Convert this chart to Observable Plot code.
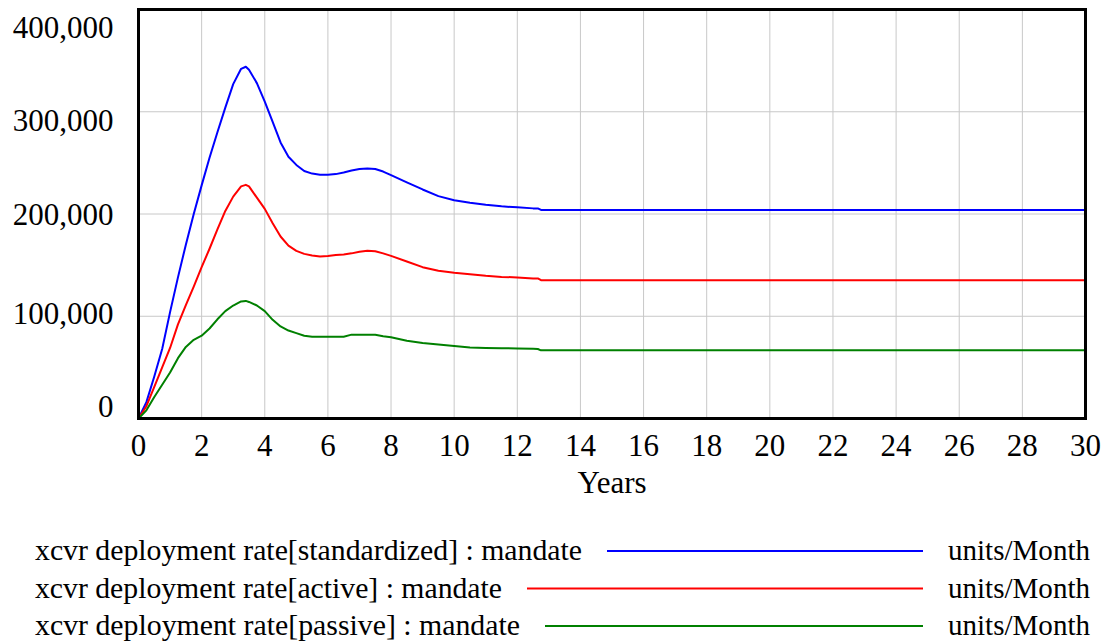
<!DOCTYPE html>
<html>
<head>
<meta charset="utf-8">
<script src="https://cdn.jsdelivr.net/npm/d3@7"></script>
<script src="https://cdn.jsdelivr.net/npm/@observablehq/plot@0.6"></script>
<style>
  html, body { margin: 0; padding: 0; background: #fff; }
  svg { display: block; }
</style>
</head>
<body>
<div id="chart"></div>
<div id="legend"></div>
<script>
// ---- data (years, thousands of units/Month) ----
const years = [0, 0.25, 0.5, 0.75, 1, 1.25, 1.5, 1.75, 2, 2.25, 2.5, 2.75, 3, 3.25, 3.4, 3.5, 3.75, 4,
  4.25, 4.5, 4.75, 5, 5.25, 5.5, 5.75, 6, 6.25, 6.5, 6.75, 7, 7.25, 7.5, 7.75, 8,
  8.5, 9, 9.5, 10, 10.5, 11, 11.5, 12, 12.5, 12.65, 12.75, 30];

const standardized = [0, 16, 41, 68, 104, 138, 170, 200, 228, 255, 280, 304, 327, 342, 344, 341, 328, 310,
  290, 270, 256, 248, 242, 239.5, 238.5, 238.5, 239, 240.5, 242.5, 244, 244.5, 244, 241.5, 238,
  231, 224, 217.5, 213.5, 211, 209, 207.5, 206.5, 205.5, 205.5, 204, 204];

const active = [0, 12, 31, 50, 69, 92, 111, 129, 148, 166, 185, 203, 217, 227, 228.5, 227, 216, 205,
  191, 178, 169, 164, 161, 159.5, 158.5, 159, 160, 160.5, 161.5, 163, 164, 163.5, 161.5, 159,
  153.5, 148, 144.5, 142.5, 141, 139.5, 138.5, 138, 137, 137, 135.3, 135.3];

const passive = [0, 8, 21, 33, 45, 59, 70, 77, 81, 88, 97, 105, 110.5, 114.5, 115, 114, 110.5, 105,
  96.5, 90, 86, 83.5, 81, 80, 80, 80, 80, 80, 82, 82, 82, 82, 80.5, 79.5,
  76, 73.8, 72.3, 70.8, 69.5, 69, 68.7, 68.5, 68.2, 68, 66.7, 66.7];

const seriesNames = ["xcvr deployment rate[standardized] : mandate",
                     "xcvr deployment rate[active] : mandate",
                     "xcvr deployment rate[passive] : mandate"];
const seriesValues = [standardized, active, passive];
const seriesColors = ["#0000ff", "#ff0000", "#008000"];
const unitsLabel = "units/Month";

const xTicks = [0, 2, 4, 6, 8, 10, 12, 14, 16, 18, 20, 22, 24, 26, 28, 30];
const yTicks = [0, 100000, 200000, 300000, 400000];
const xLabel = "Years";

// ---- build table ----
const rows = [];
seriesNames.forEach((name, s) => {
  years.forEach((t, i) => rows.push({series: name, t, v: seriesValues[s][i] * 1000}));
});

const FONT = "'Liberation Serif', 'Times New Roman', serif";
const yLabelDy = [-11, -2, 1, 9, 19]; // label offsets (styling), one per y tick

const W = 1105, H = 520;
const plot = Plot.plot({
  width: W,
  height: H,
  marginLeft: 138,
  marginRight: 20,
  marginTop: 9,
  marginBottom: H - 418,
  style: {fontFamily: FONT, background: "#fff", overflow: "visible"},
  x: {domain: [0, 30]},
  y: {domain: [0, 400000]},
  color: {domain: seriesNames, range: seriesColors},
  marks: [
    Plot.gridX(xTicks, {stroke: "#c8c8c8", strokeOpacity: 1, strokeWidth: 1}),
    Plot.gridY(yTicks, {stroke: "#c8c8c8", strokeOpacity: 1, strokeWidth: 1}),
    Plot.line(rows, {x: "t", y: "v", z: "series", stroke: "series", strokeWidth: 2, curve: "linear"}),
    Plot.frame({stroke: "#000", strokeWidth: 3}),
    Plot.axisX(xTicks, {tickSize: 0, tickPadding: 15, fontSize: 31, fill: "#000", label: null, tickFormat: d => String(d)}),
    ...yTicks.map((t, i) => Plot.axisY([t], {tickSize: 0, tickPadding: 25, fontSize: 31, fill: "#000", label: null,
      dy: yLabelDy[i], tickFormat: d3.format(",")})),
    Plot.text([xLabel], {frameAnchor: "bottom", dy: 74, fontSize: 31, fill: "#000", text: d => d})
  ]
});
document.getElementById("chart").appendChild(plot);

// ---- legend below the chart ----
const LH = 643 - H;
const legend = d3.create("svg").attr("width", W).attr("height", LH)
  .style("font-family", FONT).style("background", "#fff");
const rowLine = [551, 588.5, 626].map(y => y - H);
const textEnd = [582, 502, 520];
seriesNames.forEach((name, i) => {
  legend.append("text").attr("x", 35).attr("y", rowLine[i] + 9)
    .attr("font-size", 30).attr("fill", "#000")
    .attr("textLength", textEnd[i] - 35).attr("lengthAdjust", "spacingAndGlyphs")
    .text(name);
  legend.append("line").attr("x1", textEnd[i] + 25).attr("x2", 923)
    .attr("y1", rowLine[i]).attr("y2", rowLine[i])
    .attr("stroke", seriesColors[i]).attr("stroke-width", 2);
  legend.append("text").attr("x", 948).attr("y", rowLine[i] + 9)
    .attr("font-size", 30).attr("fill", "#000")
    .attr("textLength", 142).attr("lengthAdjust", "spacingAndGlyphs")
    .text(unitsLabel);
});
document.getElementById("legend").appendChild(legend.node());
</script>
</body>
</html>
